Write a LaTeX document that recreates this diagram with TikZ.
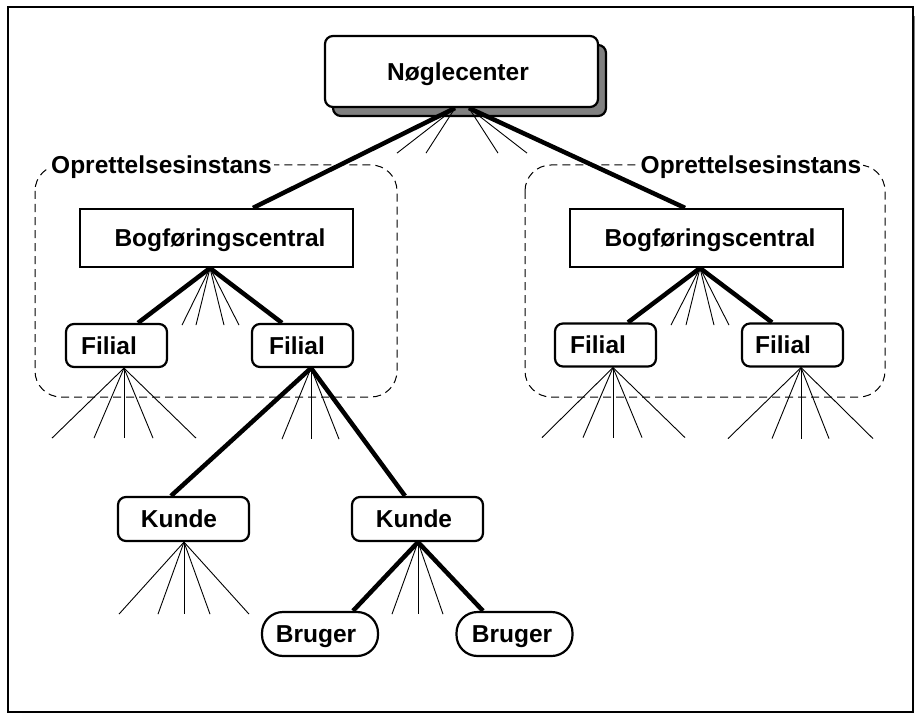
\documentclass[tikz,border=0pt]{standalone}
\usepackage{fontspec}
\setmainfont{Liberation Sans}
\usetikzlibrary{calc}
\definecolor{shade}{HTML}{808080}
\begin{document}
\begin{tikzpicture}[x=1pt,y=-1pt,
  lbl/.style={font=\fontsize{24.5}{29}\selectfont\bfseries, text height=17.5pt, text depth=0pt, inner sep=0pt},
  sqbox/.style={lbl, draw, line width=2.2pt, fill=white, rectangle},
  rbox/.style={sqbox, rounded corners=8pt},
  pill/.style={sqbox, rounded corners=21pt},
  thickc/.style={line width=4.5pt},
  thinc/.style={line width=0.9pt},
  region/.style={dash pattern=on 8pt off 5pt, line width=1pt, rounded corners=26pt},
  reglbl/.style={lbl, fill=white, inner xsep=2pt, inner ysep=1pt}
]
\useasboundingbox (0,0) rectangle (915,722);
% outer frame with shadow
\fill[shade] (22,17) rectangle (915,722);
\draw[line width=2.5pt, fill=white] (8,7) rectangle (913,712);

% dashed regions
\draw[region] (35,165) rectangle (397,397);
\draw[region] (525,165) rectangle (885,397);
\node[reglbl] (o1) at (161.5,165) {Oprettelsesinstans};
\node[reglbl] (o2) at (751,165) {Oprettelsesinstans};

% top node with shadow
\draw[line width=2.2pt, fill=shade, rounded corners=8pt] (333,45) rectangle (606,116);
\node[rbox, minimum width=273pt, minimum height=71pt] (nc) at (461.5,71.5) {\kern-7pt Nøglecenter};

% Bogfoeringscentraler
\node[sqbox, minimum width=273pt, minimum height=58pt] (bl) at (216.5,238) {\kern7pt Bogføringscentral};
\node[sqbox, minimum width=273pt, minimum height=58pt] (br) at (706.5,238) {\kern7pt Bogføringscentral};

% Filialer
\node[rbox, minimum width=101pt, minimum height=43pt] (f1) at (116.5,345.5) {\kern-15pt Filial};
\node[rbox, minimum width=101pt, minimum height=43pt] (f2) at (302.5,345.5) {\kern-11pt Filial};
\node[rbox, minimum width=101pt, minimum height=43pt] (g1) at (605.5,345) {\kern-15pt Filial};
\node[rbox, minimum width=101pt, minimum height=43pt] (g2) at (792.5,345) {\kern-19pt Filial};

% Kunder
\node[rbox, minimum width=131pt, minimum height=44pt] (k1) at (183.5,519) {\kern-9pt Kunde};
\node[rbox, minimum width=131pt, minimum height=44pt] (k2) at (417.5,519) {\kern-7pt Kunde};

% Brugere
\node[pill, minimum width=116pt, minimum height=44pt] (u1) at (320,634) {\kern-8pt Bruger};
\node[pill, minimum width=116pt, minimum height=44pt] (u2) at (514.5,634) {\kern-5pt Bruger};

% connectors from Noeglecenter
\coordinate (ncL) at ($(nc.south)+(-6.5,0)$);
\coordinate (ncR) at ($(nc.south)+(7.5,0)$);
\draw[thickc] (ncL) -- ($(bl.north)+(36.5,0)$);
\draw[thickc] (ncR) -- ($(br.north)+(-21.5,0)$);
\foreach \dx in {-58,-29} \draw[thinc] (ncL) -- ++(\dx,45);
\foreach \dx in {29,58} \draw[thinc] (ncR) -- ++(\dx,45);

% left Bogfoeringscentral
\coordinate (blA) at ($(bl.south)+(-6.5,0)$);
\draw[thickc] (blA) -- ($(f1.north)+(21.5,0)$);
\draw[thickc] (blA) -- ($(f2.north)+(-20.5,0)$);
\foreach \dx in {-28,-14,14,29} \draw[thinc] (blA) -- ++(\dx,57);

% right Bogfoeringscentral
\coordinate (brA) at ($(br.south)+(-6.5,0)$);
\draw[thickc] (brA) -- ($(g1.north)+(22.5,0)$);
\draw[thickc] (brA) -- ($(g2.north)+(-20.5,0)$);
\foreach \dx in {-29,-14,14,29} \draw[thinc] (brA) -- ++(\dx,57);

% Filial fans
\coordinate (f1A) at ($(f1.south)+(7.5,0)$);
\foreach \dx in {-72,-30,0,29,72} \draw[thinc] (f1A) -- ++(\dx,70);
\coordinate (f2A) at ($(f2.south)+(8.5,0)$);
\draw[thickc] (f2A) -- ($(k1.north)+(-12.5,0)$);
\draw[thickc] (f2A) -- ($(k2.north)+(-12.5,0)$);
\foreach \dx in {-29,0,28} \draw[thinc] (f2A) -- ++(\dx,71);
\coordinate (g1A) at ($(g1.south)+(7.5,0)$);
\foreach \dx in {-71,-30,0,29,72} \draw[thinc] (g1A) -- ++(\dx,70);
\coordinate (g2A) at ($(g2.south)+(8.5,0)$);
\foreach \dx in {-73,-29,0,28,72} \draw[thinc] (g2A) -- ++(\dx,71);

% Kunde fans
\coordinate (k1A) at ($(k1.south)+(0.5,0)$);
\foreach \dx in {-65,-26,0,26,65} \draw[thinc] (k1A) -- ++(\dx,72);
\coordinate (k2A) at ($(k2.south)+(0.5,0)$);
\draw[thickc] (k2A) -- ($(u1.north)+(33,0)$);
\draw[thickc] (k2A) -- ($(u2.north)+(-31.5,0)$);
\foreach \dx in {-26,0,25} \draw[thinc] (k2A) -- ++(\dx,72);
\end{tikzpicture}
\end{document}
